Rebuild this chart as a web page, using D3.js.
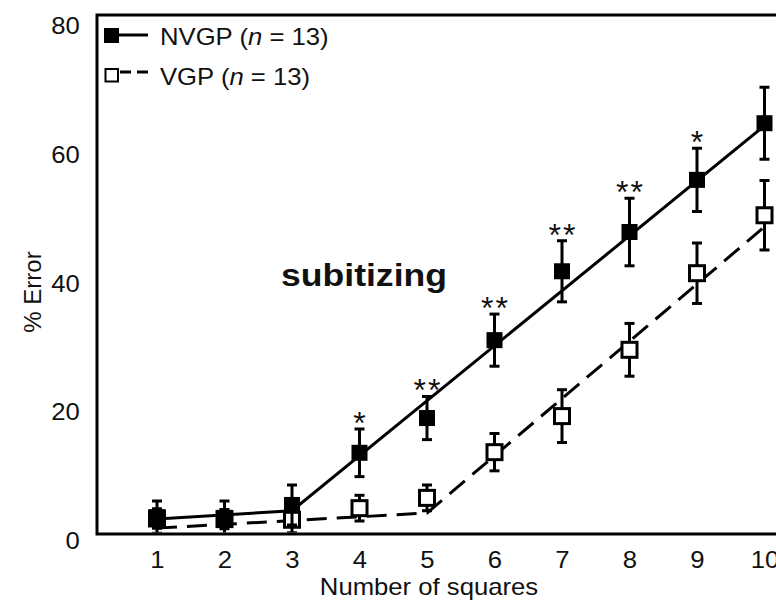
<!DOCTYPE html>
<html>
<head>
<meta charset="utf-8">
<script src="https://cdn.jsdelivr.net/npm/d3@7"></script>
<style>
  html, body { margin: 0; padding: 0; background: #fff; }
  svg { display: block; }
  text { font-family: "Liberation Sans", Arial, Helvetica, sans-serif; fill: #111; }
</style>
</head>
<body>
<div id="chart"></div>
<script>
// Number of squares shown
const squares = [1, 2, 3, 4, 5, 6, 7, 8, 9, 10];

// NVGP group: mean % error and SEM
const nvgpMean = [3.7, 3.6, 5.6, 13.7, 19.1, 31.2, 41.9, 48.0, 56.1, 64.9];
const nvgpErr  = [2.5, 2.6, 3.1, 3.7, 3.35, 4.05, 4.75, 5.25, 4.9, 5.6];

// VGP group: mean % error and SEM
const vgpMean = [3.5, 3.4, 3.3, 5.1, 6.7, 13.8, 19.4, 29.7, 41.6, 50.6];
const vgpErr  = [1.5, 1.5, 2.0, 2.0, 2.0, 2.9, 4.1, 4.1, 4.7, 5.4];

// Piecewise-linear fits (subitizing range, then counting range)
const nvgpFitX = [1, 3, 10];
const nvgpFitY = [3.4, 4.7, 64.5];
const vgpFitX  = [1, 5, 10];
const vgpFitY  = [2.0, 4.35, 48.8];

// Significance marks above the NVGP points
const sigX     = [4, 5, 6, 7, 8, 9];
const sigLabel = ["*", "**", "**", "**", "**", "*"];

const yTicks = [0, 20, 40, 60, 80];

const W = 776, H = 602;
const frame = { left: 97, top: 15, bottom: 534, right: W + 10 };
const FS = 24;          // label font size
const SX = 1.07;        // slight horizontal widening of the label face

const svg = d3.select("#chart").append("svg")
  .attr("width", W).attr("height", H);

const x = d3.scaleLinear().domain([0, 10]).range([89.5, 764.5]);
const y = d3.scaleLinear().domain([0, 80]).range([541, 26]);

// Axes labels
const yAxis = d3.axisLeft(y).tickValues(yTicks).tickSize(0).tickPadding(16);
const gy = svg.append("g").attr("transform", `translate(${frame.left},0)`).call(yAxis);
gy.select(".domain").remove();
gy.selectAll("text").attr("font-size", FS).attr("font-family", null)
  .attr("transform", `scale(${SX},1)`);

const xAxis = d3.axisBottom(x).tickValues(squares).tickSize(0).tickPadding(17);
const gx = svg.append("g").attr("transform", `translate(0,${frame.bottom})`).call(xAxis);
gx.select(".domain").remove();
gx.selectAll("text").attr("font-size", FS).attr("font-family", null)
  .attr("transform", `scale(${SX},1)`);

svg.append("text")
  .attr("transform", `translate(429,595) scale(${SX},1)`)
  .attr("text-anchor", "middle").attr("font-size", FS)
  .text("Number of squares");

svg.append("text")
  .attr("transform", "translate(41,292) rotate(-90)")
  .attr("text-anchor", "middle").attr("font-size", FS)
  .text("% Error");

// Plot frame (left, top, bottom)
svg.append("path")
  .attr("d", `M${frame.right},${frame.top}H${frame.left}V${frame.bottom}H${frame.right}`)
  .attr("fill", "none").attr("stroke", "#000").attr("stroke-width", 3);

const plot = svg.append("g");
plot.append("clipPath").attr("id", "clip")
  .append("rect")
  .attr("x", frame.left + 1.5).attr("y", frame.top + 1.5)
  .attr("width", W).attr("height", frame.bottom - frame.top - 3);
const g = plot.append("g").attr("clip-path", "url(#clip)");

// Fit lines
const line = d3.line().x(d => x(d[0])).y(d => y(d[1]));
g.append("path")
  .datum(d3.zip(vgpFitX, vgpFitY))
  .attr("d", line)
  .attr("fill", "none").attr("stroke", "#000").attr("stroke-width", 3)
  .attr("stroke-dasharray", "20,10");
g.append("path")
  .datum(d3.zip(nvgpFitX, nvgpFitY))
  .attr("d", line)
  .attr("fill", "none").attr("stroke", "#000").attr("stroke-width", 3);

// Error bars with caps
function errorBars(mean, err) {
  const data = squares.map((s, i) => ({ s, m: mean[i], e: err[i] }));
  const eb = g.append("g").attr("stroke", "#000").attr("stroke-width", 3);
  eb.selectAll("line.v").data(data).join("line").attr("class", "v")
    .attr("x1", d => x(d.s)).attr("x2", d => x(d.s))
    .attr("y1", d => y(d.m + d.e)).attr("y2", d => y(d.m - d.e));
  eb.selectAll("line.t").data(data).join("line").attr("class", "t")
    .attr("x1", d => x(d.s) - 5).attr("x2", d => x(d.s) + 5)
    .attr("y1", d => y(d.m + d.e)).attr("y2", d => y(d.m + d.e));
  eb.selectAll("line.b").data(data).join("line").attr("class", "b")
    .attr("x1", d => x(d.s) - 5).attr("x2", d => x(d.s) + 5)
    .attr("y1", d => y(d.m - d.e)).attr("y2", d => y(d.m - d.e));
  return data;
}

const sz = 16;
const osz = 15;
// VGP (open squares), drawn first so NVGP sits on top where they overlap
const vgpData = errorBars(vgpMean, vgpErr);
g.append("g").selectAll("rect").data(vgpData).join("rect")
  .attr("x", d => x(d.s) - osz / 2).attr("y", d => y(d.m) - osz / 2)
  .attr("width", osz).attr("height", osz)
  .attr("fill", "#fff").attr("stroke", "#000").attr("stroke-width", 3);

// NVGP (filled squares)
const nvgpData = errorBars(nvgpMean, nvgpErr);
g.append("g").selectAll("rect").data(nvgpData).join("rect")
  .attr("x", d => x(d.s) - sz / 2).attr("y", d => y(d.m) - sz / 2)
  .attr("width", sz).attr("height", sz)
  .attr("fill", "#000");

// Significance asterisks
svg.append("g").selectAll("text").data(sigX).join("text")
  .attr("x", s => x(s) + 1)
  .attr("y", (s, i) => {
    const k = squares.indexOf(s);
    return y(nvgpMean[k] + nvgpErr[k]) + 5;
  })
  .attr("text-anchor", "middle")
  .attr("font-size", 32)
  .attr("letter-spacing", 2)
  .text((s, i) => sigLabel[i]);

// Annotation
svg.append("text")
  .attr("x", 281).attr("y", 286)
  .attr("font-family", "Lato, 'Open Sans', sans-serif")
  .attr("font-weight", "bold").attr("font-size", 32)
  .attr("textLength", 166).attr("lengthAdjust", "spacingAndGlyphs")
  .text("subitizing");

// Legend
const lg = svg.append("g");
lg.append("rect").attr("x", 104).attr("y", 28).attr("width", 15).attr("height", 15).attr("fill", "#000");
lg.append("line").attr("x1", 119).attr("x2", 148).attr("y1", 35).attr("y2", 35)
  .attr("stroke", "#000").attr("stroke-width", 3);
lg.append("rect").attr("x", 105.5).attr("y", 69).attr("width", 12.5).attr("height", 12.5)
  .attr("fill", "#fff").attr("stroke", "#000").attr("stroke-width", 2);
lg.append("line").attr("x1", 120).attr("x2", 149).attr("y1", 72).attr("y2", 72)
  .attr("stroke", "#000").attr("stroke-width", 3).attr("stroke-dasharray", "11,6");

const leg = [["NVGP (", 45], ["VGP (", 85]];
leg.forEach(([lab, yy]) => {
  const t = lg.append("text")
    .attr("transform", `translate(160,${yy}) scale(${SX},1)`)
    .attr("font-size", FS);
  t.append("tspan").text(lab);
  t.append("tspan").attr("font-style", "italic").text("n");
  t.append("tspan").text(" = 13)");
});
</script>
</body>
</html>
